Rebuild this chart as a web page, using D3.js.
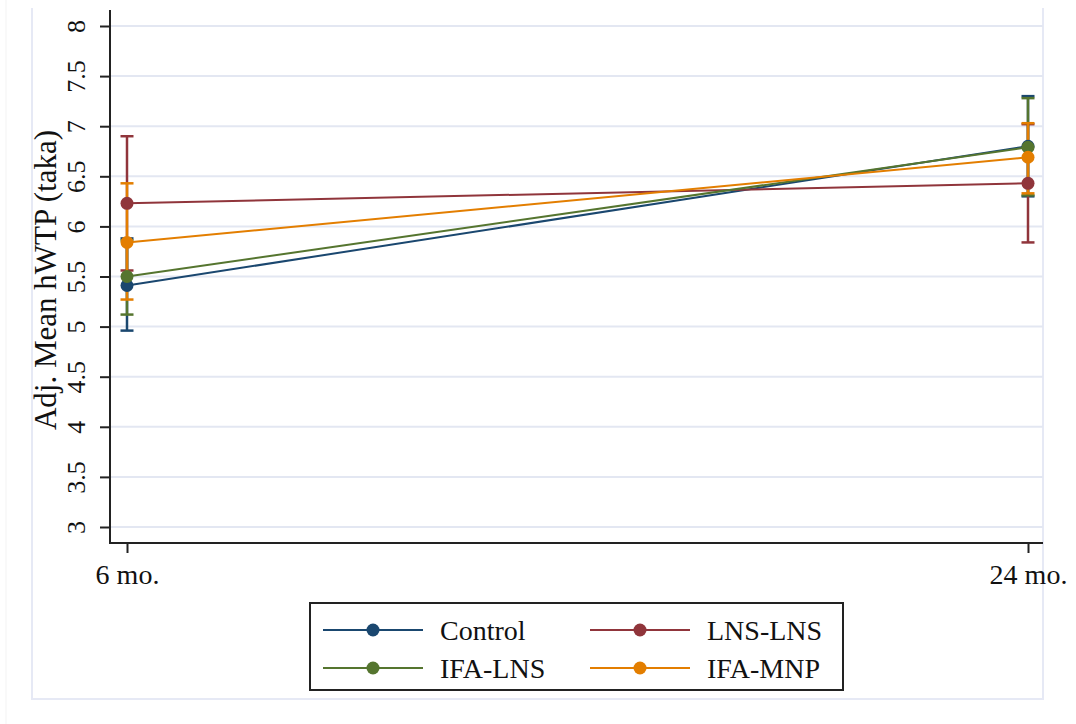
<!DOCTYPE html>
<html>
<head>
<meta charset="utf-8">
<script src="https://cdn.jsdelivr.net/npm/d3@7"></script>
<style>
  html, body { margin: 0; padding: 0; background: #fff; }
  svg { display: block; }
  svg text { font-family: "Liberation Serif", "DejaVu Serif", serif; fill: #111; }
</style>
</head>
<body>
<svg id="chart" width="1076" height="724"></svg>
<script>
// ---- data ----
const timepoints = [6, 24];
const timeLabels = ["6 mo.", "24 mo."];
const seriesNames = ["Control", "LNS-LNS", "IFA-LNS", "IFA-MNP"];
const seriesColors = ["#1a476f", "#90353b", "#55752f", "#e37e00"];
const controlMean = [5.41, 6.80];
const controlLow  = [4.96, 6.30];
const controlHigh = [5.88, 7.30];
const lnsMean = [6.23, 6.43];
const lnsLow  = [5.56, 5.84];
const lnsHigh = [6.90, 7.02];
const ifaLnsMean = [5.50, 6.79];
const ifaLnsLow  = [5.12, 6.31];
const ifaLnsHigh = [5.86, 7.28];
const ifaMnpMean = [5.84, 6.69];
const ifaMnpLow  = [5.27, 6.33];
const ifaMnpHigh = [6.43, 7.03];
const yTicks = [3, 3.5, 4, 4.5, 5, 5.5, 6, 6.5, 7, 7.5, 8];
const yTitle = "Adj. Mean hWTP (taka)";

const series = [
  {name: seriesNames[0], color: seriesColors[0], mean: controlMean, low: controlLow, high: controlHigh},
  {name: seriesNames[1], color: seriesColors[1], mean: lnsMean, low: lnsLow, high: lnsHigh},
  {name: seriesNames[2], color: seriesColors[2], mean: ifaLnsMean, low: ifaLnsLow, high: ifaLnsHigh},
  {name: seriesNames[3], color: seriesColors[3], mean: ifaMnpMean, low: ifaMnpLow, high: ifaMnpHigh}
];

const serif = '"Liberation Serif", "DejaVu Serif", serif';
const svg = d3.select("#chart");
const frameColor = "#e6e9f5";
const gridColor = "#e3e7f2";

// outer graph frame
svg.append("line").attr("x1", 6).attr("x2", 6).attr("y1", 0).attr("y2", 724)
  .attr("stroke", "#f3f3f3").attr("stroke-width", 1);
svg.append("path")
  .attr("d", "M32,8 V699 H1043 V8")
  .attr("fill", "none").attr("stroke", frameColor).attr("stroke-width", 2);

const plotLeft = 110, plotRight = 1043, plotTop = 10, plotBottom = 543;
const x = d3.scaleLinear().domain([6, 24]).range([127, 1028]);
const y = d3.scaleLinear().domain([3, 8]).range([527, 26]);

// gridlines
svg.append("g").selectAll("line").data(yTicks).join("line")
  .attr("x1", plotLeft).attr("x2", plotRight)
  .attr("y1", d => y(d)).attr("y2", d => y(d))
  .attr("stroke", gridColor).attr("stroke-width", 2);

// y axis
const yAxis = d3.axisLeft(y).tickValues(yTicks).tickSize(10).tickFormat(d3.format("~g"));
const gy = svg.append("g").attr("transform", `translate(${plotLeft},0)`).call(yAxis)
  .attr("font-family", serif).attr("font-size", 26);
gy.select(".domain").remove();
gy.selectAll(".tick line").attr("stroke", "#222").attr("stroke-width", 2);
gy.selectAll(".tick text")
  .attr("x", 0).attr("y", 0).attr("dy", null)
  .attr("transform", "translate(-25,0) rotate(-90)")
  .attr("text-anchor", "middle")
  .attr("font-family", serif)
  .style("font-family", serif)
  .style("font-size", "26px")
  .attr("fill", "#111");
svg.append("line").attr("x1", plotLeft).attr("x2", plotLeft)
  .attr("y1", plotTop).attr("y2", plotBottom + 1)
  .attr("stroke", "#222").attr("stroke-width", 2);

// x axis
const xAxis = d3.axisBottom(x).tickValues(timepoints).tickSize(10)
  .tickFormat((d, i) => timeLabels[i]);
const gx = svg.append("g").attr("transform", `translate(0,${plotBottom})`).call(xAxis)
  .attr("font-family", serif).attr("font-size", 28);
gx.select(".domain").remove();
gx.selectAll(".tick line").attr("stroke", "#222").attr("stroke-width", 2);
gx.selectAll(".tick text")
  .attr("y", 41).attr("dy", null)
  .attr("font-family", serif)
  .style("font-family", serif)
  .style("font-size", "28px")
  .attr("fill", "#111");
svg.append("line").attr("x1", plotLeft - 1).attr("x2", plotRight)
  .attr("y1", plotBottom).attr("y2", plotBottom)
  .attr("stroke", "#222").attr("stroke-width", 2);

// y title
svg.append("text")
  .attr("transform", "translate(56,280) rotate(-90)")
  .attr("text-anchor", "middle")
  .style("font-family", serif)
  .style("font-size", "31px")
  .text(yTitle);

// error bars
const capHalf = 6.5;
series.forEach(s => {
  const g = svg.append("g").attr("stroke", s.color).attr("stroke-width", 2.5).attr("fill", "none");
  timepoints.forEach((t, i) => {
    const cx = x(t);
    g.append("line").attr("x1", cx).attr("x2", cx).attr("y1", y(s.low[i])).attr("y2", y(s.high[i]));
    g.append("line").attr("x1", cx - capHalf).attr("x2", cx + capHalf).attr("y1", y(s.low[i])).attr("y2", y(s.low[i]));
    g.append("line").attr("x1", cx - capHalf).attr("x2", cx + capHalf).attr("y1", y(s.high[i])).attr("y2", y(s.high[i]));
  });
});

// connected lines + markers
const line = d3.line().x((d, i) => x(timepoints[i])).y(d => y(d));
series.forEach(s => {
  svg.append("path").datum(s.mean).attr("d", line)
    .attr("fill", "none").attr("stroke", s.color).attr("stroke-width", 2);
  svg.append("g").selectAll("circle").data(s.mean).join("circle")
    .attr("cx", (d, i) => x(timepoints[i])).attr("cy", d => y(d)).attr("r", 6.5)
    .attr("fill", s.color);
});

// legend
const lg = svg.append("g");
lg.append("rect").attr("x", 310).attr("y", 603).attr("width", 533).attr("height", 87)
  .attr("fill", "#fff").attr("stroke", "#222").attr("stroke-width", 2);
const legendCols = [{x1: 323, x2: 423, tx: 440}, {x1: 590, x2: 690, tx: 707}];
const legendRows = [630, 668];
series.forEach((s, i) => {
  const col = legendCols[i % 2], rowY = legendRows[Math.floor(i / 2)];
  lg.append("line").attr("x1", col.x1).attr("x2", col.x2).attr("y1", rowY).attr("y2", rowY)
    .attr("stroke", s.color).attr("stroke-width", 2);
  lg.append("circle").attr("cx", (col.x1 + col.x2) / 2).attr("cy", rowY).attr("r", 6.5).attr("fill", s.color);
  lg.append("text").attr("x", col.tx).attr("y", rowY + 10)
    .style("font-family", serif).style("font-size", "28px").text(s.name);
});
</script>
</body>
</html>
